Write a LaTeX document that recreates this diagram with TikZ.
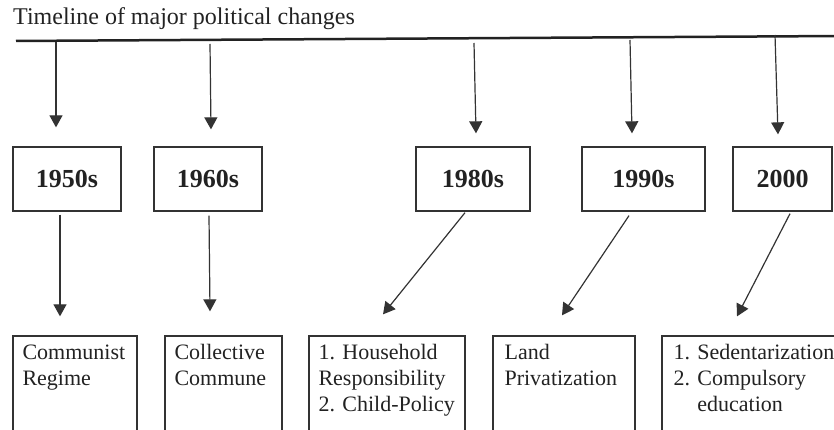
\documentclass[tikz,border=0pt]{standalone}
\usepackage{fontspec}
\setmainfont{Liberation Serif}
\usetikzlibrary{arrows.meta}
\definecolor{ink}{HTML}{222222}
\definecolor{lineink}{HTML}{333333}
\begin{document}
\begin{tikzpicture}[x=1pt,y=-1pt,
  yearbox/.style={draw=lineink, line width=1.3pt, minimum width=#1, minimum height=64pt, inner sep=0pt, text=ink, font=\fontsize{26}{30}\selectfont\bfseries},
  eventbox/.style={draw=lineink, line width=1.3pt, minimum width=#1, minimum height=114pt, inner sep=0pt},
  eventtext/.style={anchor=north west, inner sep=0pt, align=left, text=ink, font=\fontsize{22}{26}\selectfont},
  arr/.style={draw=lineink, line width=1.2pt, -{Triangle[width=13pt,length=12pt]}},
  tline/.style={line width=2.5pt, draw=ink}]
\useasboundingbox (0,0) rectangle (834,430);
\clip (0,0) rectangle (834,430);

% title
\node[anchor=base west, inner sep=0pt, text=ink, font=\fontsize{24}{28}\selectfont] (title) at (13,25) {Timeline of major political changes};

% timeline
\coordinate (tlL) at (16,41);
\coordinate (tlR) at (840,36);
\draw[tline] (tlL) -- (tlR);

% points on the timeline
\coordinate (t1) at (56,42);
\coordinate (t2) at (210,44);
\coordinate (t3) at (474,43);
\coordinate (t4) at (630,40);
\coordinate (t5) at (775,35);

% year boxes
\node[yearbox=108pt] (y1) at (67,179) {1950s};
\node[yearbox=108pt] (y2) at (208,179) {1960s};
\node[yearbox=114pt] (y3) at (473,179) {1980s};
\node[yearbox=123pt] (y4) at (643.5,179) {1990s};
\node[yearbox=99pt]  (y5) at (782.5,179) {2000};

% event boxes
\node[eventbox=124pt] (b1) at (75,393) {};
\node[eventbox=117pt] (b2) at (223.5,393) {};
\node[eventbox=156pt] (b3) at (387,393) {};
\node[eventbox=142pt] (b4) at (564,393) {};
\node[eventbox=180pt] (b5) at (752,393) {};

\node[eventtext] (e1) at ([shift={(10,9)}]b1.north west) {Communist\\Regime};
\node[eventtext] (e2) at ([shift={(10,9)}]b2.north west) {Collective\\Commune};
\node[eventtext] (e3) at ([shift={(10,9)}]b3.north west) {1. Household\\Responsibility\\2. Child-Policy};
\node[eventtext] (e4) at ([shift={(12,9)}]b4.north west) {Land\\Privatization};
\node[eventtext] (e5) at ([shift={(12,9)}]b5.north west) {1. Sedentarization\\2. Compulsory\\\phantom{2. }education};

% arrows from timeline to year boxes
\draw[arr] (t1) -- ([shift={(-11,-19)}]y1.north);
\draw[arr] (t2) -- ([shift={(3,-17)}]y2.north);
\draw[arr] (t3) -- ([shift={(3,-13)}]y3.north);
\draw[arr] (t4) -- ([shift={(-11.5,-13)}]y4.north);
\draw[arr] (t5) -- ([shift={(-4.5,-12)}]y5.north);

% arrows from year boxes to event boxes
\draw[arr] ([shift={(-7,3)}]y1.south) -- ([shift={(-15,-19)}]b1.north);
\draw[arr] ([shift={(1,4)}]y2.south) -- ([shift={(-13.5,-24)}]b2.north);
\draw[arr] ([shift={(-8,1)}]y3.south) -- ([shift={(-4,-21)}]b3.north);
\draw[arr] ([shift={(-14.5,4)}]y4.south) -- ([shift={(-2,-20)}]b4.north);
\draw[arr] ([shift={(7.5,2)}]y5.south) -- ([shift={(-15,-19)}]b5.north);
\end{tikzpicture}
\end{document}
